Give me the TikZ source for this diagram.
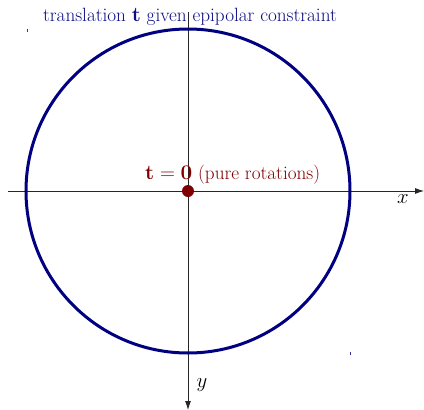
\documentclass[tikz,border=0pt]{standalone}
\usetikzlibrary{arrows.meta}
\definecolor{navyc}{RGB}{0,0,128}
\definecolor{maroonc}{RGB}{128,0,0}
\tikzset{
  axis/.style={draw=black!85, line width=0.8pt, -{Latex[length=9pt,width=6pt]}},
  lbl/.style={font=\fontsize{19.2}{22}\selectfont, inner sep=0pt, anchor=base},
  tick/.style={draw=navyc!80, line width=1pt}
}
\begin{document}
\begin{tikzpicture}[x=1pt,y=-1pt]
\useasboundingbox (0,0) rectangle (424,410);
% axes
\coordinate (xl) at (8,191);
\coordinate (xr) at (424,191);
\coordinate (yt) at (188,12);
\coordinate (yb) at (188,410);
\draw[axis] (xl) -- (xr);
\draw[axis] (yt) -- (yb);
\node[lbl] (xlab) at (403,203) {$x$};
\node[lbl] (ylab) at (202,387) {$y$};
% circle
\node[draw=navyc, line width=3pt, circle, minimum size=324pt, inner sep=0pt] (c) at (188,191) {};
% tiny marks
\coordinate (m1a) at (27,28.5);
\coordinate (m1b) at (27,32);
\coordinate (m2a) at (350,351.5);
\coordinate (m2b) at (350,355);
\draw[tick] (m1a) -- (m1b);
\draw[tick] (m2a) -- (m2b);
% texts
\node[lbl, text=navyc!95] (title) at (190,21) {translation $\mathbf{t}$ given epipolar constraint};
\node[lbl, text=maroonc, anchor=base west] (pure) at (145,179) {$\mathbf{t}=\mathbf{0}$ (pure rotations)};
% origin dot
\node[circle, fill=maroonc, minimum size=12pt, inner sep=0pt] (o) at (188,191) {};
\end{tikzpicture}
\end{document}
